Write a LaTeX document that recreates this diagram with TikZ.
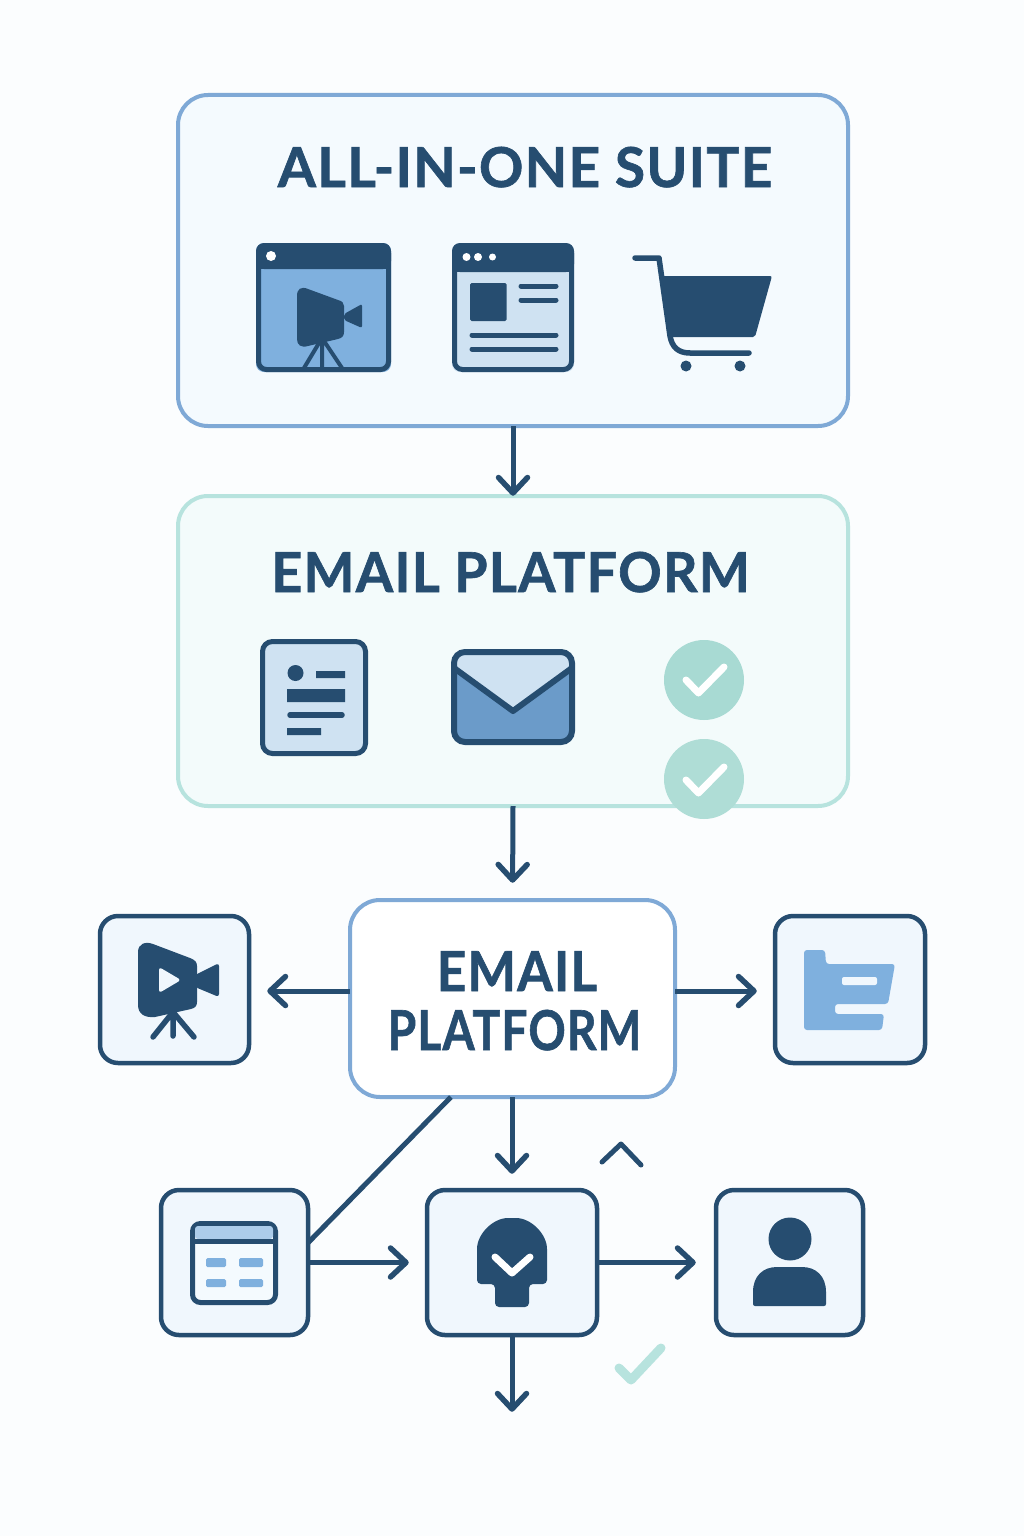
\documentclass[tikz,border=0pt]{standalone}
\usepackage{fontspec}
\setmainfont{Lato}
\usetikzlibrary{arrows.meta}
\pgfdeclarearrow{
  name=Chev,
  setup code={
    \pgfarrowssettipend{0pt}
    \pgfarrowssetlineend{-3pt}
    \pgfarrowssetvisualbackend{-20pt}
    \pgfarrowssetbackend{-21pt}
    \pgfarrowshullpoint{0pt}{0pt}
    \pgfarrowshullpoint{-21pt}{17pt}
    \pgfarrowshullpoint{-21pt}{-17pt}
  },
  drawing code={
    \pgfsetlinewidth{5.5pt}
    \pgfsetroundcap
    \pgfsetroundjoin
    \pgfpathmoveto{\pgfpoint{-18.5pt}{14.5pt}}
    \pgfpathlineto{\pgfpoint{-3pt}{0pt}}
    \pgfpathlineto{\pgfpoint{-18.5pt}{-14.5pt}}
    \pgfusepathqstroke
  },
  defaults={length=1pt}
}
\definecolor{ink}{HTML}{264D70}
\definecolor{bgc}{HTML}{FBFDFE}
\definecolor{blueline}{HTML}{7FA9D6}
\definecolor{mintline}{HTML}{B7E3DE}
\definecolor{suitefill}{HTML}{F4FAFE}
\definecolor{mintfill}{HTML}{F3FBFB}
\definecolor{tilefill}{HTML}{F0F7FD}
\definecolor{midblue}{HTML}{7FB0DE}
\definecolor{paleblue}{HTML}{CFE2F2}
\definecolor{envblue}{HTML}{6B9BC9}
\definecolor{mint}{HTML}{A8DAD3}
\tikzset{
  panel/.style={rectangle,rounded corners=30pt,line width=4pt,outer sep=0pt,inner sep=0pt},
  tile/.style={rectangle,rounded corners=18pt,draw=ink,line width=4.5pt,fill=tilefill,outer sep=0pt,inner sep=0pt},
  flow/.style={draw=ink,line width=5pt,-Chev},
  plainline/.style={draw=ink,line width=5pt},
  title/.style={text=ink,font=\fontsize{55}{60}\selectfont\bfseries\addfontfeatures{LetterSpace=2.5,FakeBold=1.2},inner sep=0pt,outer sep=0pt,anchor=base},
  iconline/.style={draw=ink,line width=5pt,line cap=round},
  iconbox/.style={draw=ink,line width=5pt,rounded corners=8pt},
  tickmark/.style={draw=white,line width=7pt,line cap=round,line join=round},
}
\begin{document}
\begin{tikzpicture}[x=1pt,y=-1pt]
\useasboundingbox (0,0) rectangle (1024,1536);
\fill[bgc] (0,0) rectangle (1024,1536);

% panels and tiles
\node[panel,draw=blueline,fill=suitefill,minimum width=670pt,minimum height=331pt] (suite) at (513,260.5) {};
\node[panel,draw=mintline,fill=mintfill,minimum width=670pt,minimum height=310pt] (platform) at (513,651) {};
\node[panel,draw=blueline,fill=white,minimum width=325pt,minimum height=197pt] (hub) at (512.5,998.5) {};
\node[tile,minimum width=149pt,minimum height=147pt] (camtile) at (174.5,989.5) {};
\node[tile,minimum width=150pt,minimum height=147pt] (foldertile) at (850,989.5) {};
\node[tile,minimum width=147pt,minimum height=145pt] (tabletile) at (234.5,1262.5) {};
\node[tile,minimum width=170pt,minimum height=145pt] (headtile) at (512,1262.5) {};
\node[tile,minimum width=147pt,minimum height=145pt] (usertile) at (789.5,1262.5) {};
\coordinate (outend) at (512,1412);

% titles
\node[title] (t1) at (525,187) {ALL-IN-ONE SUITE};
\node[title] (t2) at (510.5,592) {\scalebox{.978}[1]{EMAIL PLATFORM}};
\node[title] (t3) at (517,991) {\scalebox{.93}[1]{EMAIL}};
\node[title] (t4) at (514.5,1050) {\scalebox{.84}[1]{PLATFORM}};

% connectors
\draw[flow] (suite.south) -- (platform.north);
\draw[flow,shorten >=17pt] (platform.south) -- (hub.north);
\draw[flow,shorten >=18pt] ([yshift=-1.5pt]camtile.east -| hub.west) -- ([yshift=-1.5pt]camtile.east);
\draw[flow,shorten >=18pt] ([yshift=-1.5pt]foldertile.west -| hub.east) -- ([yshift=-1.5pt]foldertile.west);
\draw[flow,shorten >=16pt] (hub.south -| headtile.north) -- (headtile.north);
\draw[plainline] (hub.238.7) -- (tabletile.15.6);
\draw[flow,shorten >=18pt] (tabletile.east) -- (headtile.west);
\draw[flow,shorten >=20pt] (headtile.east) -- (usertile.west);
\draw[flow] (headtile.south) -- (outend);

% window with camera
\fill[midblue,rounded corners=8pt] (256,243) rectangle (391,372);
\fill[ink,rounded corners=8pt] (256,243) -- (391,243) -- (391,269) -- (256,269) -- cycle;
\fill[ink] (256,255) rectangle (391,269);
\draw[iconbox] (258.5,245.5) rectangle (388.5,369.5);
\fill[white] (271,256) circle (5);
\fill[ink] (297,296) .. controls (297,289) and (301,286) .. (308,289) -- (338,300) .. controls (342,301) and (344,303) .. (344,306) -- (344,332) .. controls (344,336) and (342,338) .. (338,339) -- (308,346) .. controls (301,348) and (297,345) .. (297,339) -- cycle;
\fill[ink,rounded corners=2pt] (344,314) -- (362,304) -- (362,328) -- (344,320) -- cycle;
\draw[ink,line width=4pt] (322,338) -- (304,368) (322,338) -- (322,368) (322,338) -- (342,368);

% browser
\fill[paleblue,rounded corners=8pt] (452,243) rectangle (574,372);
\fill[ink,rounded corners=8pt] (452,243) -- (574,243) -- (574,272) -- (452,272) -- cycle;
\fill[ink] (452,255) rectangle (574,272);
\draw[iconbox] (454.5,245.5) rectangle (571.5,369.5);
\fill[white] (466.5,257) circle (4) (478,257) circle (4) (492.5,257) circle (3.5);
\fill[ink,rounded corners=1.5pt] (470,283) rectangle (506.5,321);
\draw[iconline] (521,286) -- (556,286) (521,300) -- (556,300);
\draw[iconline] (472,335) -- (556,335) (472,349) -- (556,349);

% cart
\fill[ink,rounded corners=2pt] (661,276) -- (772,276) -- (755,337) -- (670,337) -- cycle;
\draw[ink,line width=5.5pt,line cap=round,line join=round] (635,258) -- (659,258) -- (670,336) .. controls (672,347) and (678,353) .. (690,353) -- (749,353);
\fill[ink] (686,366) circle (5.5) (740,366) circle (5.5);

% contact card
\draw[draw=ink,fill=paleblue,line width=5pt,rounded corners=10pt] (262.5,641.5) rectangle (365.5,753.5);
\fill[ink] (295.5,673) circle (8);
\fill[ink] (316,671) rectangle (345,678) (287,689) rectangle (345,702) (287,728) rectangle (321,735);
\draw[ink,line width=5.5pt,line cap=round] (290,715) -- (342,715);

% envelope
\fill[envblue,rounded corners=10pt] (455,653) rectangle (571,741);
\fill[paleblue,rounded corners=7pt] (456,654) -- (570,654) -- (570,668) -- (513,711) -- (456,668) -- cycle;
\draw[draw=ink,line width=6pt,rounded corners=11pt] (454,652) rectangle (572,742);
\draw[ink,line width=6pt,line join=round] (454,668) -- (513,711) -- (572,668);

% check circles
\fill[mint] (704,680) circle (40);
\fill[mint!92!white] (704,779) circle (40);
\draw[tickmark] (686,680) -- (698.5,693) -- (724,667);
\draw[tickmark] (686,780) -- (698.5,793) -- (724,767);

% camera with play
\fill[ink] (138,952) .. controls (138,944) and (145,941) .. (153,944) -- (190,958) .. controls (195,960) and (197,962) .. (197,966) -- (197,1002) .. controls (197,1006) and (195,1008) .. (191,1009) -- (155,1017) .. controls (145,1018) and (138,1014) .. (138,1005) -- cycle;
\fill[ink,rounded corners=3pt] (195,975) -- (219,963) -- (219,997) -- (195,987) -- cycle;
\fill[tilefill,rounded corners=3pt] (159,967) -- (181,980) -- (159,993) -- cycle;
\draw[ink,line width=5.5pt,line cap=round] (173,1012) -- (153,1037) (173,1012) -- (173,1036) (173,1012) -- (194,1037);

% folder
\fill[midblue,rounded corners=3pt] (804,950) -- (825,950) -- (826,964) -- (895,964) -- (888,1004) -- (835,1004) -- (835,1014) -- (884,1014) -- (882,1030) -- (804,1030) -- cycle;
\fill[tilefill,rounded corners=2pt] (842,977) rectangle (877,985);

% table
\draw[draw=ink,fill=suitefill,line width=5pt,rounded corners=8pt] (192.5,1223.5) rectangle (275.5,1302.5);
\fill[midblue!65!white,rounded corners=3pt] (195,1226) -- (273,1226) -- (273,1239) -- (195,1239) -- cycle;
\draw[ink,line width=5pt] (192.5,1241) -- (275.5,1241);
\fill[midblue,rounded corners=1.5pt] (206,1258) rectangle (226,1267) (239,1258) rectangle (263,1267) (206,1279) rectangle (226,1287) (239,1279) rectangle (263,1287);

% head with tick
\fill[ink,rounded corners=4pt] (477,1284) -- (477,1253) .. controls (477,1234) and (493,1218) .. (512,1218) .. controls (531,1218) and (547,1234) .. (547,1253) -- (547,1284) -- (529,1284) -- (529,1307) -- (495,1307) -- (495,1284) -- cycle;
\draw[tickmark] (495,1257) -- (512,1273) -- (530,1257);

% user
\fill[ink] (790,1239) circle (21.5);
\fill[ink,rounded corners=2pt] (753,1306) -- (753,1290) -- (826,1290) -- (826,1306) -- cycle;
\fill[ink] (753,1292) .. controls (753,1276) and (763,1267) .. (777,1267) -- (802,1267) .. controls (816,1267) and (826,1276) .. (826,1292) -- cycle;

% loose marks
\draw[ink,line width=5pt,line cap=round,line join=round] (602,1162) -- (621,1144) -- (641,1165);
\draw[mintline,line width=9pt,line cap=round,line join=round] (619,1368) -- (631,1380) -- (661,1348);
\end{tikzpicture}
\end{document}
